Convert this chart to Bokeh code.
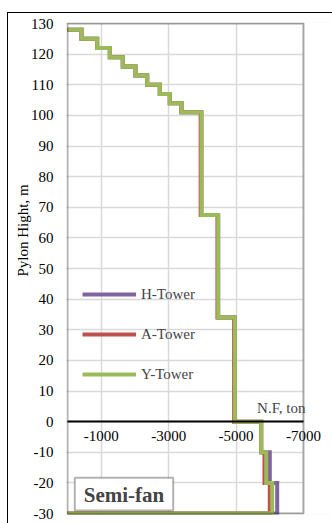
from bokeh.plotting import figure
from bokeh.models import (Range1d, FixedTicker, Legend, LegendItem, Label, BoxAnnotation,
                          Title, InlineStyleSheet)
from bokeh.embed import file_html
from bokeh.resources import INLINE

# Pylon height levels (m), from top of pylon down to foundation
levels = [128, 125, 122, 119, 116, 113, 110, 107, 104, 101, 67.5, 34, 0, -10, -20, -30]

# Normal force (ton) acting in each interval between consecutive levels
h_force = [-415, -881, -1255, -1640, -2017, -2364, -2738, -3034, -3381,
           -3974, -4470, -4962, -5745, -6000, -6220]
a_force = [-415, -881, -1255, -1640, -2017, -2364, -2738, -3034, -3381,
           -3950, -4447, -4940, -5745, -5843, -6000]
y_force = [-415, -881, -1255, -1640, -2017, -2364, -2738, -3034, -3381,
           -3974, -4470, -4962, -5745, -5894, -6072]

series = [("H-Tower", h_force, "#8064a2"),
          ("A-Tower", a_force, "#c0504d"),
          ("Y-Tower", y_force, "#9bbb59")]

x_ticks = [-1000, -3000, -5000, -7000]
y_ticks = list(range(-30, 131, 10))
x_min, x_max = 0, -7000
y_min, y_max = -30, 130

FONT = "Liberation Serif"

# pixel geometry of the plot area
WIDTH, HEIGHT = 332, 523
AX_LEFT, AX_RIGHT = 67, 303      # x_min / x_max positions
AX_TOP, AX_BOTTOM = 23, 513      # y_max / y_min positions
PAD = 1                           # frame margin so the border is not clipped

x_per_px = (x_max - x_min) / (AX_RIGHT - AX_LEFT)
y_per_px = (y_max - y_min) / (AX_BOTTOM - AX_TOP)
x_range = Range1d(x_min - PAD * x_per_px, x_min + (WIDTH - AX_LEFT) * x_per_px)
y_range = Range1d(y_min - PAD * y_per_px, y_max + PAD * y_per_px)


def step_profile(force):
    xs, ys = [0], [levels[0]]
    for i, f in enumerate(force):
        xs += [f, f]
        ys += [levels[i], levels[i + 1]]
    xs.append(0)
    ys.append(levels[-1])
    return xs, ys


p = figure(width=WIDTH, height=HEIGHT, output_backend="svg", toolbar_location=None,
           x_range=x_range, y_range=y_range,
           min_border_left=AX_LEFT - PAD, min_border_right=0,
           min_border_top=AX_TOP - PAD, min_border_bottom=HEIGHT - AX_BOTTOM - PAD)
p.background_fill_color = "white"
p.border_fill_color = "white"
p.outline_line_color = None

# outer chart border (left and top edges)
p.stylesheets = [InlineStyleSheet(css="""
.bk-Canvas::after {
  content: ""; position: absolute; left: 7px; top: 11.5px; right: 0; bottom: 0;
  border-left: 1.5px solid black; border-top: 1.5px solid black;
  z-index: 20; pointer-events: none;
}
""")]

# axes
p.xaxis.ticker = FixedTicker(ticks=x_ticks)
p.xaxis.major_label_overrides = {t: str(t) for t in x_ticks}
p.xaxis.fixed_location = 0
p.xaxis.bounds = (x_max, x_min)
p.xaxis.axis_line_color = "black"
p.xaxis.axis_line_width = 2
p.xaxis.major_tick_line_color = None
p.xaxis.minor_tick_line_color = None
p.xaxis.major_tick_out = 0
p.xaxis.major_tick_in = 0
p.xaxis.major_label_standoff = 9
p.xaxis.major_label_text_font = FONT
p.xaxis.major_label_text_font_size = "15px"
p.xaxis.major_label_text_color = "black"

p.yaxis.ticker = FixedTicker(ticks=y_ticks)
p.yaxis.major_label_overrides = {t: str(t) for t in y_ticks}
p.yaxis.axis_line_color = None
p.yaxis.major_tick_line_color = None
p.yaxis.minor_tick_line_color = None
p.yaxis.major_tick_out = 0
p.yaxis.major_tick_in = 0
p.yaxis.major_label_standoff = 13
p.yaxis.major_label_text_font = FONT
p.yaxis.major_label_text_font_size = "15px"
p.yaxis.major_label_text_color = "black"

p.grid.grid_line_color = "#d9d9d9"
p.grid.grid_line_width = 1.5

# blank out grid beyond the end of the force axis
p.add_layout(BoxAnnotation(left=x_max, right=None, top=None, bottom=None,
                           fill_color="white", fill_alpha=1, line_alpha=0,
                           level="underlay"))

# step profiles of normal force along the pylon
items = []
for name, force, color in series:
    xs, ys = step_profile(force)
    r = p.line(xs, ys, line_color=color, line_width=4, line_join="miter")
    items.append(LegendItem(label=name, renderers=[r]))

legend = Legend(items=items, location=(16, 130), margin=0, padding=0,
                glyph_width=54, glyph_height=20, label_height=20, spacing=20,
                label_standoff=5, label_text_font=FONT, label_text_font_size="15px",
                background_fill_alpha=0, border_line_alpha=0)
p.add_layout(legend)

# plot area border
p.add_layout(BoxAnnotation(left=x_min, right=x_max, top=y_max, bottom=y_min,
                           fill_alpha=0, line_color="black", line_width=2))

# axis titles
p.add_layout(Label(x=x_max, y=4.3, x_offset=2, text="N.F, ton", text_align="right",
                   text_baseline="alphabetic", text_font=FONT, text_font_size="15px"))
p.add_layout(Title(text="Pylon Hight, m", align="left", offset=238, standoff=-7,
                   text_font=FONT, text_font_size="15px", text_font_style="normal",
                   text_color="black"), "left")

# system name box
p.add_layout(BoxAnnotation(left=-216, right=-3135, top=-18.3, bottom=-29.0,
                           fill_color="white", fill_alpha=1,
                           line_color="black", line_width=2))
p.add_layout(Label(x=-1676, y=-23.8, text="Semi-fan", text_align="center",
                   text_baseline="middle", text_font=FONT, text_font_size="21px",
                   text_font_style="bold"))

open("out.html", "w").write(file_html(p, INLINE))
